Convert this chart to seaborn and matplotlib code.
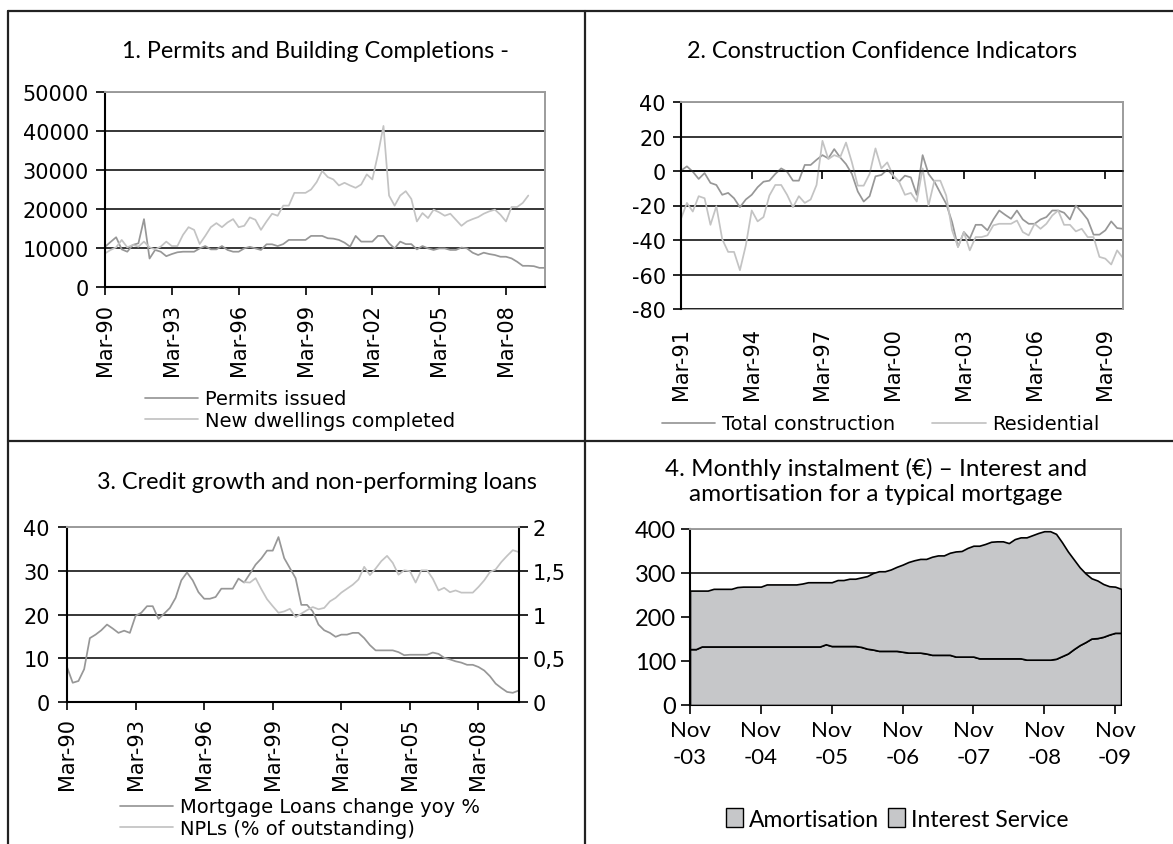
import numpy as np
import pandas as pd
import matplotlib
matplotlib.use("Agg")
import matplotlib.pyplot as plt
import seaborn as sns
from matplotlib.lines import Line2D
from matplotlib.patches import Patch

# ---------------- data ----------------
# Panel 1: quarterly Mar-90 .. Dec-09
permits = [10300, 11550, 12760, 9650, 9050, 10800, 11200, 17400, 7300, 9500,
           9050, 7900, 8450, 8900, 9050, 9050, 9050, 9900, 10500, 9650,
           9650, 10500, 9500, 9050, 9050, 9900, 10300, 9900, 9500, 10950,
           10950, 10500, 11000, 12070, 12070, 12070, 12070, 13100, 13100, 13100,
           12500, 12400, 12070, 11380, 10350, 13100, 11640, 11640, 11640, 13100,
           13100, 11200, 9900, 11640, 11000, 11000, 9650, 10500, 9900, 9500,
           9900, 9900, 9500, 9500, 10100, 9900, 8800, 8200, 8800, 8450,
           8200, 7760, 7760, 7330, 6470, 5430, 5430, 5340, 4910, 4910]
dwellings = [8620, 9500, 10170, 12070, 10170, 10800, 10350, 11640, 10170, 9650,
             10350, 11640, 10500, 10500, 13360, 15340, 14650, 11030, 13100, 15340,
             16380, 15340, 16550, 17410, 15340, 15690, 17840, 17240, 14650, 16810,
             18790, 18270, 20860, 20860, 24140, 24140, 24140, 25000, 26900, 29740,
             28190, 27580, 26030, 26720, 26030, 25430, 26290, 28880, 27580, 34000,
             41300, 23450, 20860, 23450, 24570, 22580, 16810, 18960, 17670, 19830,
             19140, 18270, 18790, 17240, 15690, 16810, 17410, 17930, 18790, 19400,
             19830, 18530, 16810, 20520, 20520, 21550, 23450, np.nan, np.nan, np.nan]
p1_ticklabels = ["Mar-90", "Mar-93", "Mar-96", "Mar-99", "Mar-02", "Mar-05", "Mar-08"]

# Panel 2: quarterly Mar-91 .. Dec-09
total_construction = [0.2, 2.7, -0.4, -4.6, -1.2, -6.9, -8.1, -13.8, -12.7, -15.8,
                      -21.0, -16.5, -13.8, -9.4, -6.2, -5.6, -1.7, 1.5, -0.4, -5.6,
                      -5.6, 3.5, 3.5, 6.5, 9.2, 7.3, 12.7, 7.9, 4.0, -1.7,
                      -11.9, -17.7, -14.6, -3.1, -2.3, 0.8, -2.7, -6.2, -2.7, -3.7,
                      -13.8, 9.2, -1.7, -6.2, -12.7, -19.0, -29.6, -44.0, -35.4, -39.2,
                      -31.2, -31.2, -34.4, -28.1, -22.9, -25.4, -27.7, -22.9, -28.1, -30.6,
                      -30.6, -28.1, -26.7, -22.9, -22.9, -24.2, -28.1, -20.0, -23.8, -28.1,
                      -36.9, -36.9, -34.4, -29.2, -33.1, -33.5]
residential = [-27.7, -18.5, -23.5, -14.6, -15.8, -31.2, -20.4, -39.6, -46.9, -46.9,
               -57.5, -43.1, -22.9, -29.2, -26.7, -14.2, -8.1, -8.1, -13.8, -21.0,
               -14.6, -18.5, -16.5, -8.1, 17.5, 6.9, 9.2, 7.9, 16.5, 5.0,
               -8.5, -8.5, -1.7, 13.1, 1.5, 5.0, -2.7, -6.2, -13.8, -12.7,
               -17.7, 1.5, -20.0, -5.6, -5.6, -14.2, -34.4, -44.0, -35.4, -46.0,
               -38.3, -38.3, -37.3, -31.5, -30.6, -30.6, -30.6, -28.7, -35.4, -37.3,
               -30.6, -33.5, -30.6, -25.8, -22.9, -31.2, -31.2, -35.0, -33.5, -38.3,
               -38.3, -49.8, -50.8, -54.2, -46.0, -50.4]
p2_ticklabels = ["Mar-91", "Mar-94", "Mar-97", "Mar-00", "Mar-03", "Mar-06", "Mar-09"]

# Panel 3: quarterly Mar-90 .. Dec-09
mortgage_yoy = [8.0, 4.4, 4.8, 7.5, 14.6, 15.4, 16.4, 17.7, 16.8, 15.8,
                16.3, 15.8, 19.7, 20.4, 21.9, 21.9, 19.0, 20.2, 21.5, 23.8,
                27.8, 29.6, 27.8, 25.1, 23.6, 23.6, 24.0, 25.9, 25.9, 25.9,
                28.2, 27.3, 29.3, 31.4, 32.8, 34.6, 34.6, 37.7, 32.9, 30.6,
                28.3, 22.2, 22.2, 20.7, 17.7, 16.4, 15.8, 14.9, 15.4, 15.4,
                15.8, 15.8, 14.6, 13.0, 11.8, 11.8, 11.8, 11.8, 11.4, 10.7,
                10.8, 10.8, 10.8, 10.8, 11.3, 11.0, 10.1, 9.75, 9.3, 9.0,
                8.5, 8.5, 8.0, 7.2, 5.9, 4.2, 3.2, 2.3, 2.1, 2.6]
npl_pct = [np.nan] * 31 + [1.37, 1.365, 1.415, 1.29, 1.175, 1.095, 1.02, 1.035, 1.065,
                           0.97, 1.01, 1.05, 1.085, 1.06, 1.075, 1.15, 1.19, 1.25, 1.295,
                           1.34, 1.40, 1.545, 1.45, 1.525, 1.61, 1.67, 1.59, 1.455, 1.505,
                           1.495, 1.365, 1.505, 1.505, 1.41, 1.275, 1.305, 1.255, 1.275, 1.25,
                           1.25, 1.25, 1.315, 1.39, 1.485, 1.515, 1.60, 1.67, 1.735, 1.715]
p3_ticklabels = ["Mar-90", "Mar-93", "Mar-96", "Mar-99", "Mar-02", "Mar-05", "Mar-08"]
p3_right_ticklabels = ["0", "0,5", "1", "1,5", "2"]

# Panel 4: monthly Nov-03 .. Dec-09
amortisation = [127, 127, 133, 133, 133, 133, 133, 133, 133, 133,
                133, 133, 133, 133, 133, 133, 133, 133, 133, 133,
                133, 133, 133, 138, 134, 134, 134, 134, 134, 132,
                128, 126, 123, 123, 123, 123, 121, 119, 119, 119,
                117, 114, 114, 114, 114, 110, 110, 110, 110, 106,
                106, 106, 106, 106, 106, 106, 106, 103, 103, 103,
                103, 103, 105, 111, 117, 127, 136, 143, 151, 152,
                155, 160, 164, 164]
interest = [133, 133, 127, 127, 131, 131, 131, 131, 135, 136,
            136, 136, 136, 141, 141, 141, 141, 141, 141, 143,
            146, 146, 146, 141, 145, 150, 150, 153, 153, 158,
            165, 174, 181, 181, 185, 191, 198, 206, 210, 213,
            215, 223, 226, 226, 232, 239, 240, 247, 252, 256,
            260, 265, 266, 266, 262, 271, 275, 278, 283, 288,
            292, 292, 284, 259, 232, 204, 177, 156, 137, 131,
            120, 110, 105, 100]
p4_ticklabels = ["Nov\n-03", "Nov\n-04", "Nov\n-05", "Nov\n-06", "Nov\n-07", "Nov\n-08", "Nov\n-09"]

# ---------------- style ----------------
sns.set_theme(style="white")
plt.rcParams['font.family'] = ['DejaVu Sans']
plt.rcParams['text.color'] = 'black'
plt.rcParams['xtick.color'] = 'black'
plt.rcParams['ytick.color'] = 'black'
plt.rcParams['axes.edgecolor'] = 'black'

W, H = 1173, 845
fig = plt.figure(figsize=(W / 100, H / 100), dpi=100)

DARK = '#979797'
LIGHT = '#c3c3c3'
GRAYSP = '#9c9c9c'
FILL = '#c6c7c9'
TICKFS = 15
LEGFS = 14
TITLEFONT = 'Lato'
TITLEFS = 16.8


def ax_at(l, t, r, b):
    return fig.add_axes([l / W, 1 - b / H, (r - l) / W, (b - t) / H])


def base_style(ax):
    ax.set_facecolor('white')
    ax.yaxis.grid(True, color='black', lw=1.1)
    ax.xaxis.grid(False)
    ax.set_axisbelow(True)
    for s in ['left', 'bottom']:
        ax.spines[s].set_color('black')
        ax.spines[s].set_linewidth(1.5)
    for s in ['top', 'right']:
        ax.spines[s].set_color(GRAYSP)
        ax.spines[s].set_linewidth(1.4)


def px2pt(p):
    return p * 0.72


# ---------------- frame ----------------
lk = dict(transform=fig.transFigure, color='#222222', lw=1.6)
fig.add_artist(Line2D([8 / W, 8 / W], [1 - 12 / H, 0], **lk))
fig.add_artist(Line2D([8 / W, 1], [1 - 12 / H, 1 - 12 / H], **lk))
fig.add_artist(Line2D([585 / W, 585 / W], [1 - 12 / H, 0], **lk))
fig.add_artist(Line2D([8 / W, 1], [1 - 442 / H, 1 - 442 / H], **lk))

# ---------------- panel 1 ----------------
ax1 = ax_at(105, 93, 545, 288)
base_style(ax1)
q1 = np.arange(len(permits))
sns.lineplot(x=q1, y=permits, ax=ax1, color=DARK, lw=1.25, label='Permits issued', legend=False)
sns.lineplot(x=q1, y=dwellings, ax=ax1, color=LIGHT, lw=1.25, label='New dwellings completed', legend=False)
ax1.set_xlim(0, len(permits) - 1)
ax1.set_ylim(0, 50000)
ax1.set_yticks(range(0, 50001, 10000))
ax1.set_yticklabels([str(v) for v in range(0, 50001, 10000)])
ax1.set_xticks(np.arange(0, len(permits), 12))
ax1.set_xticklabels(p1_ticklabels)
ax1.set_xlabel('')
ax1.set_ylabel('')
ax1.tick_params(axis='y', left=True, direction='out', length=px2pt(9), width=1.2, pad=px2pt(7), labelsize=TICKFS)
ax1.tick_params(axis='x', bottom=True, direction='out', length=px2pt(8), width=1.2, pad=px2pt(8),
                labelsize=TICKFS, labelrotation=90)
fig.text(316 / W, 1 - 52 / H, "1. Permits and Building Completions -", ha='center', va='center',
         family=TITLEFONT, fontsize=TITLEFS)
fig.legend(handles=ax1.get_lines()[:2], loc='center left', bbox_to_anchor=(145 / W, 1 - 410.5 / H),
           frameon=False, fontsize=LEGFS, handlelength=2.75, handletextpad=0.35, labelspacing=0.12,
           borderpad=0, borderaxespad=0)

# ---------------- panel 2 ----------------
ax2 = ax_at(681, 103, 1123, 310)
base_style(ax2)
q2 = np.arange(len(total_construction))
sns.lineplot(x=q2, y=total_construction, ax=ax2, color=DARK, lw=1.25, label='Total construction', legend=False)
sns.lineplot(x=q2, y=residential, ax=ax2, color=LIGHT, lw=1.25, label='Residential', legend=False)
ax2.set_xlim(0, len(total_construction) - 1)
ax2.set_ylim(-80, 40)
ax2.set_yticks(range(-80, 41, 20))
ax2.set_yticklabels([str(v) for v in range(-80, 41, 20)])
ax2.set_xlabel('')
ax2.set_ylabel('')
ax2.spines['bottom'].set_position(('data', 0))
ax2.spines['bottom'].set_linewidth(1.1)
ax2.set_xticks(np.arange(0, len(total_construction), 12))
ax2.tick_params(axis='x', bottom=True, direction='out', length=px2pt(8), width=1.2, labelbottom=False)
ax2.tick_params(axis='y', left=True, direction='out', length=px2pt(8), width=1.2, pad=px2pt(7), labelsize=TICKFS)
sec2 = ax2.secondary_xaxis(0)
sec2.set_xticks(np.arange(0, len(total_construction), 12))
sec2.set_xticklabels(p2_ticklabels)
sec2.tick_params(axis='x', length=0, pad=px2pt(18), labelsize=TICKFS, labelrotation=90)
sec2.spines['bottom'].set_color(GRAYSP)
sec2.spines['bottom'].set_linewidth(1.4)
fig.text(882 / W, 1 - 52 / H, "2. Construction Confidence Indicators", ha='center', va='center',
         family=TITLEFONT, fontsize=TITLEFS)
fig.legend(handles=ax2.get_lines()[:2], loc='center left', bbox_to_anchor=(662 / W, 1 - 425 / H),
           frameon=False, fontsize=LEGFS, ncol=2, handlelength=2.75, handletextpad=0.35,
           columnspacing=1.9, borderpad=0, borderaxespad=0)

# ---------------- panel 3 ----------------
ax3 = ax_at(67, 528, 518.5, 703)
base_style(ax3)
ax3r = ax3.twinx()
q3 = np.arange(len(mortgage_yoy))
sns.lineplot(x=q3, y=mortgage_yoy, ax=ax3, color=DARK, lw=1.25, label='Mortgage Loans change yoy %', legend=False)
sns.lineplot(x=q3, y=npl_pct, ax=ax3r, color=LIGHT, lw=1.25, label='NPLs (% of outstanding)', legend=False)
ax3.set_xlim(0, len(mortgage_yoy) - 1)
ax3.set_ylim(0, 40)
ax3.set_yticks(range(0, 41, 10))
ax3.set_yticklabels([str(v) for v in range(0, 41, 10)])
ax3r.set_ylim(0, 2)
ax3r.set_yticks([0, 0.5, 1, 1.5, 2])
ax3r.set_yticklabels(p3_right_ticklabels)
ax3.set_xticks(np.arange(0, len(mortgage_yoy), 12))
ax3.set_xticklabels(p3_ticklabels)
for a in (ax3, ax3r):
    a.set_xlabel('')
    a.set_ylabel('')
ax3.spines['right'].set_visible(False)
ax3r.spines['left'].set_visible(False)
ax3r.spines['bottom'].set_visible(False)
ax3r.spines['top'].set_color(GRAYSP)
ax3r.spines['top'].set_linewidth(1.4)
ax3r.spines['right'].set_color('black')
ax3r.spines['right'].set_linewidth(1.5)
ax3.tick_params(axis='y', left=True, direction='out', length=px2pt(9), width=1.2, pad=px2pt(8), labelsize=TICKFS)
ax3r.tick_params(axis='y', right=True, direction='out', length=px2pt(9), width=1.2, pad=px2pt(5), labelsize=TICKFS)
ax3.tick_params(axis='x', bottom=True, direction='out', length=px2pt(8), width=1.2, pad=px2pt(7),
                labelsize=TICKFS, labelrotation=90)
fig.text(317 / W, 1 - 483 / H, "3. Credit growth and non-performing loans", ha='center', va='center',
         family=TITLEFONT, fontsize=TITLEFS)
fig.legend(handles=[ax3.get_lines()[0], ax3r.get_lines()[0]], loc='center left',
           bbox_to_anchor=(120 / W, 1 - 818.5 / H), frameon=False, fontsize=LEGFS,
           handlelength=2.75, handletextpad=0.35, labelspacing=0.12, borderpad=0, borderaxespad=0)

# ---------------- panel 4 ----------------
ax4 = ax_at(690, 530, 1121, 706)
base_style(ax4)
m4 = np.arange(len(amortisation))
ax4.stackplot(m4, amortisation, interest, colors=[FILL, FILL], edgecolor='black', linewidth=1.2,
              labels=['Amortisation', 'Interest Service'], zorder=3)
ax4.set_xlim(0, len(amortisation) - 1)
ax4.set_ylim(0, 400)
ax4.set_yticks(range(0, 401, 100))
ax4.set_yticklabels([str(v) for v in range(0, 401, 100)], family=TITLEFONT)
ax4.set_xticks(np.arange(0, len(amortisation), 12))
ax4.set_xticklabels(p4_ticklabels, family=TITLEFONT, linespacing=1.45)
ax4.tick_params(axis='y', left=True, direction='out', length=px2pt(9), width=1.2, pad=px2pt(5), labelsize=17)
ax4.tick_params(axis='x', bottom=True, direction='out', length=px2pt(9), width=1.2, pad=px2pt(6), labelsize=16)
fig.text(876 / W, 1 - 481.5 / H, "4. Monthly instalment (€) – Interest and\namortisation for a typical mortgage",
         ha='center', va='center', family=TITLEFONT, fontsize=17.5, linespacing=1.25)
patches = [Patch(facecolor=FILL, edgecolor='black', lw=1.0, label='Amortisation'),
           Patch(facecolor=FILL, edgecolor='black', lw=1.0, label='Interest Service')]
fig.legend(handles=patches, loc='center left', bbox_to_anchor=(726 / W, 1 - 820 / H), frameon=False,
           ncol=2, prop={'family': TITLEFONT, 'size': 16.5}, handlelength=0.75, handleheight=0.85,
           handletextpad=0.25, columnspacing=0.4, borderpad=0, borderaxespad=0)

fig.savefig('out.png', dpi=100)
